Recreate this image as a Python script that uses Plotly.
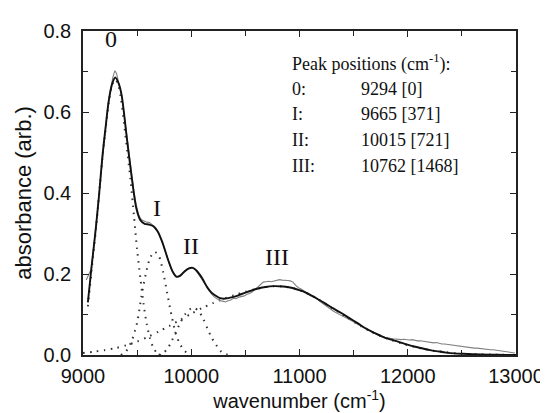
import plotly.graph_objects as go

# ---- data ----
fit_x = [9045, 9080, 9119, 9150, 9179, 9210, 9239, 9270, 9298, 9330, 9358, 9403, 9447, 9492,
         9530, 9570, 9611, 9650, 9690, 9731, 9790, 9830, 9865, 9900, 9940, 9980, 10014, 10050,
         10100, 10148, 10190, 10223, 10260, 10298, 10350, 10402, 10460, 10521, 10600, 10685,
         10762, 10850, 10924, 11000, 11043, 11100, 11163, 11240, 11312, 11390, 11461, 11540,
         11610, 11690, 11759, 11830, 11909, 11980, 12058, 12140, 12207, 12280, 12356, 12430,
         12505, 12600, 12750, 12900, 13000]
fit_y = [0.13, 0.22, 0.314, 0.40, 0.49, 0.565, 0.63, 0.67, 0.685, 0.67, 0.64, 0.54, 0.445, 0.363,
         0.333, 0.324, 0.322, 0.318, 0.305, 0.28, 0.232, 0.205, 0.193, 0.196, 0.207, 0.214, 0.215, 0.208,
         0.19, 0.167, 0.153, 0.147, 0.141, 0.139, 0.141, 0.144, 0.150, 0.156, 0.163, 0.168,
         0.170, 0.169, 0.166, 0.160, 0.156, 0.148, 0.139, 0.127, 0.115, 0.103, 0.091, 0.078,
         0.066, 0.055, 0.046, 0.039, 0.033, 0.027, 0.021, 0.016, 0.012, 0.009, 0.006, 0.004,
         0.003, 0.002, 0.001, 0.0, 0.0]

data_x = [9030, 9050, 9075, 9100, 9130, 9160, 9190, 9220, 9250, 9275, 9294, 9310, 9330, 9358, 9380,
          9403, 9425, 9447, 9470, 9492, 9515, 9540, 9565, 9590, 9615, 9640, 9665, 9690, 9715, 9740,
          9765, 9790, 9815, 9840, 9865, 9890, 9915, 9940, 9965, 9990, 10015, 10040, 10065, 10090,
          10115, 10140, 10165, 10190, 10215, 10240, 10265, 10290, 10315, 10340, 10365, 10390, 10415,
          10440, 10465, 10490, 10515, 10540, 10565, 10590, 10615, 10640, 10665, 10690, 10715, 10740,
          10765, 10790, 10815, 10840, 10865, 10890, 10915, 10940, 10965, 10990, 11015, 11040, 11065,
          11090, 11115, 11140, 11165, 11190, 11215, 11240, 11265, 11290, 11315, 11340, 11365, 11390,
          11415, 11440, 11465, 11490, 11515, 11540, 11565, 11590, 11615, 11640, 11665, 11690, 11715,
          11740, 11765, 11790, 11815, 11840, 11865, 11890, 11915, 11940, 11965, 11990, 12015, 12040,
          12065, 12090, 12115, 12140, 12165, 12190, 12215, 12240, 12265, 12290, 12315, 12340, 12365,
          12390, 12415, 12440, 12465, 12490, 12515, 12540, 12565, 12590, 12615, 12640, 12665, 12690,
          12715, 12740, 12765, 12790, 12815, 12840, 12865, 12890, 12915, 12940, 12965, 12990]
data_y = [0.185, 0.198, 0.212, 0.268, 0.345, 0.43, 0.515, 0.59, 0.648, 0.685, 0.702, 0.695, 0.672, 0.64, 0.595,
          0.545, 0.495, 0.45, 0.405, 0.37, 0.345, 0.334, 0.33, 0.328, 0.327, 0.322, 0.316, 0.305, 0.29, 0.272,
          0.252, 0.232, 0.213, 0.2, 0.194, 0.195, 0.201, 0.208, 0.213, 0.216, 0.216, 0.21, 0.2, 0.191,
          0.18, 0.168, 0.158, 0.15, 0.143, 0.138, 0.134, 0.133, 0.131, 0.134, 0.136, 0.14, 0.139,
          0.143, 0.145, 0.146, 0.150, 0.152, 0.156, 0.162, 0.168, 0.176, 0.18, 0.181, 0.182, 0.181,
          0.183, 0.184, 0.186, 0.185, 0.185, 0.184, 0.183, 0.180, 0.172, 0.166, 0.163, 0.158, 0.154,
          0.151, 0.147, 0.143, 0.138, 0.132, 0.127, 0.121, 0.116, 0.112, 0.108, 0.104, 0.101, 0.097,
          0.094, 0.090, 0.087, 0.083, 0.079, 0.075, 0.071, 0.068, 0.064, 0.06, 0.057, 0.054, 0.051,
          0.048, 0.046, 0.044, 0.042, 0.041, 0.040, 0.039, 0.039, 0.038, 0.039, 0.038, 0.037, 0.038,
          0.036, 0.035, 0.035, 0.034, 0.033, 0.033, 0.031, 0.030, 0.031, 0.029, 0.027, 0.027, 0.026,
          0.025, 0.024, 0.024, 0.022, 0.021, 0.021, 0.019, 0.019, 0.018, 0.017, 0.017, 0.016, 0.015,
          0.015, 0.014, 0.013, 0.013, 0.012, 0.011, 0.010, 0.009, 0.008, 0.007, 0.006, 0.005]

peak0_x = [9045, 9080, 9119, 9150, 9179, 9210, 9239, 9270, 9294, 9320, 9350, 9380, 9410, 9440,
           9470, 9500, 9530, 9560, 9590, 9620, 9650, 9680, 9720]
peak0_y = [0.12, 0.21, 0.31, 0.40, 0.485, 0.56, 0.625, 0.668, 0.68, 0.672, 0.635, 0.57, 0.50, 0.43,
           0.345, 0.26, 0.19, 0.125, 0.075, 0.04, 0.018, 0.006, 0.0]

peak1_x = [9350, 9400, 9450, 9500, 9540, 9580, 9620, 9660, 9700, 9740, 9780, 9820, 9860, 9900, 9940, 9980]
peak1_y = [0.0, 0.01, 0.035, 0.08, 0.145, 0.20, 0.24, 0.255, 0.245, 0.205, 0.15, 0.095, 0.05, 0.025, 0.01, 0.002]

peak2_x = [9700, 9740, 9780, 9820, 9860, 9900, 9950, 10000, 10030, 10070, 10110, 10150, 10190,
           10230, 10270, 10310, 10350]
peak2_y = [0.0, 0.005, 0.015, 0.035, 0.058, 0.08, 0.103, 0.115, 0.116, 0.108, 0.09, 0.065, 0.042,
           0.025, 0.01, 0.003, 0.0]

peak3_x = [9000, 9100, 9200, 9300, 9400, 9500, 9600, 9700, 9800, 9900, 10000, 10100, 10200, 10300,
           10400, 10500, 10600, 10700, 10762, 10850, 10950, 11050, 11150, 11250, 11350, 11450, 11550,
           11650, 11750, 11850, 11950, 12050, 12150, 12250, 12350, 12450, 12600, 12800, 13000]
peak3_y = [0.005, 0.008, 0.012, 0.017, 0.024, 0.033, 0.045, 0.058, 0.072, 0.087, 0.102, 0.116, 0.128, 0.139,
           0.148, 0.156, 0.163, 0.168, 0.170, 0.169, 0.164, 0.155, 0.141, 0.124, 0.107, 0.090, 0.074,
           0.059, 0.047, 0.037, 0.028, 0.021, 0.015, 0.010, 0.007, 0.004, 0.002, 0.001, 0.0]

peak_labels = ["0", "I", "II", "III"]
peak_label_x = [9255, 9685, 9995, 10795]
peak_label_y = [0.78, 0.364, 0.268, 0.243]

table_rows = ["Peak positions (cm<sup>-1</sup>):", "0:", "I:", "II:", "III:"]
table_values = ["", "9294 [0]", "9665 [371]", "10015 [721]", "10762 [1468]"]
table_row_y = [0.722, 0.658, 0.594, 0.530, 0.466]

x_ticks = [9000, 10000, 11000, 12000, 13000]
y_ticks = [0.0, 0.2, 0.4, 0.6, 0.8]

fig = go.Figure()

dot_style = dict(color="#333333", width=2, dash="1.5px,5.5px", shape="spline", smoothing=0.8)
for px_, py_ in [(peak0_x, peak0_y), (peak1_x, peak1_y), (peak2_x, peak2_y), (peak3_x, peak3_y)]:
    fig.add_trace(go.Scatter(x=px_, y=py_, mode="lines", line=dot_style, hoverinfo="skip"))

fig.add_trace(go.Scatter(x=data_x, y=data_y, mode="lines",
                         line=dict(color="#808080", width=1.1)))
fig.add_trace(go.Scatter(x=fit_x, y=fit_y, mode="lines",
                         line=dict(color="#111111", width=1.9, shape="spline", smoothing=0.8)))

serif = "Liberation Serif, Times New Roman, serif"
sans = "Liberation Sans, Arial, sans-serif"
annotations = []
for lab, lx, ly in zip(peak_labels, peak_label_x, peak_label_y):
    annotations.append(dict(x=lx, y=ly, xref="x", yref="y", text=lab, showarrow=False,
                            font=dict(family=serif, size=24, color="#111")))

for lab, val, ry in zip(table_rows, table_values, table_row_y):
    annotations.append(dict(x=10915, y=ry, xref="x", yref="y", text=lab, showarrow=False,
                            xanchor="left", font=dict(family=serif, size=18, color="#111")))
    if val:
        annotations.append(dict(x=11545, y=ry, xref="x", yref="y", text=val, showarrow=False,
                                xanchor="left", font=dict(family=serif, size=18, color="#111")))

axis_common = dict(showgrid=False, zeroline=False, showline=True, linecolor="#222", linewidth=1.5,
                   mirror="allticks", ticks="inside", ticklen=6, tickwidth=1.2, tickcolor="#222",
                   ticklabeloverflow="allow",
                   tickfont=dict(family=sans, size=20, color="#111"))

fig.update_layout(
    width=548, height=413,
    margin=dict(l=75, r=26, t=20, b=66),
    paper_bgcolor="white", plot_bgcolor="white",
    showlegend=False,
    annotations=annotations,
    xaxis=dict(range=[9000, 13000], tickvals=x_ticks, ticktext=[str(v) for v in x_ticks],
               minor=dict(ticks="inside", dtick=500, ticklen=5, tickcolor="#222", tickwidth=1.2),
               ticklabelstandoff=2,
               title=dict(text="wavenumber (cm<sup>-1</sup>)", standoff=8,
                          font=dict(family=sans, size=20, color="#111")),
               **axis_common),
    yaxis=dict(range=[0, 0.8], tickvals=y_ticks, ticktext=[f"{v:.1f}" for v in y_ticks],
               minor=dict(ticks="inside", dtick=0.1, ticklen=5, tickcolor="#222", tickwidth=1.2),
               ticklabelstandoff=6,
               title=dict(text="absorbance (arb.)", standoff=6,
                          font=dict(family=sans, size=22, color="#111")),
               **axis_common),
)

fig.write_html("out.html")
